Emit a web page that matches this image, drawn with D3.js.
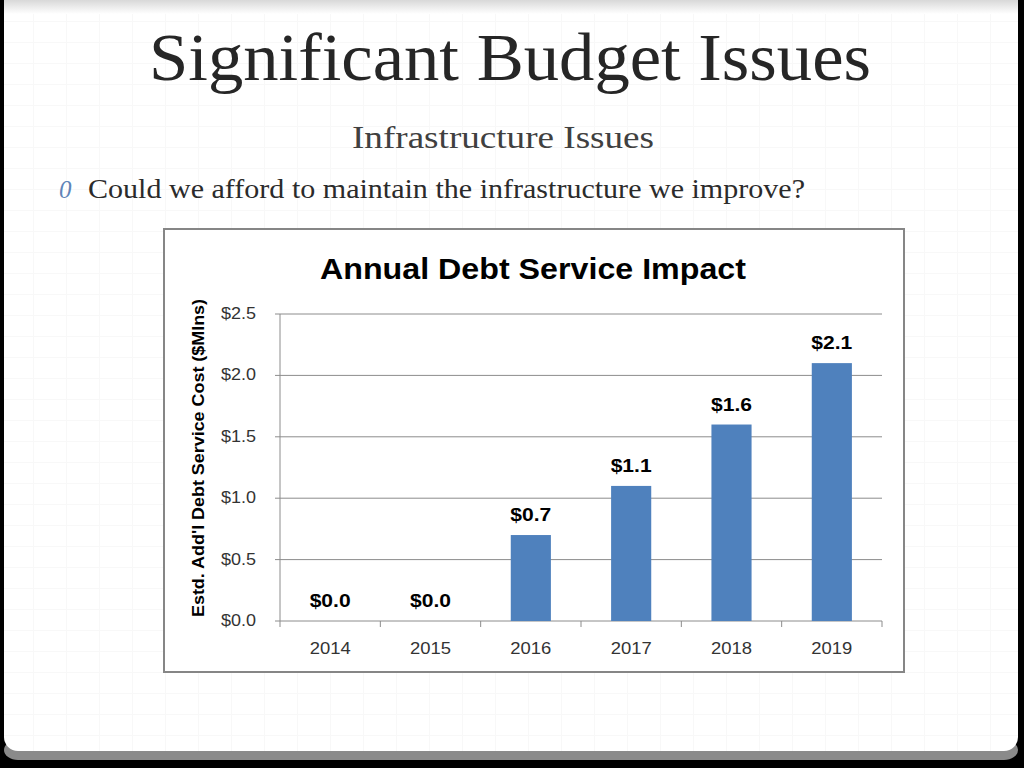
<!DOCTYPE html>
<html>
<head>
<meta charset="utf-8">
<script src="https://cdn.jsdelivr.net/npm/d3@7"></script>
<style>
  body { margin: 0; background: #000; }
  svg { display: block; }
</style>
</head>
<body>
<svg width="1024" height="768"></svg>
<script>
// data for the chart
const years = ['2014', '2015', '2016', '2017', '2018', '2019'];
const cost = [0.0, 0.0, 0.7, 1.1, 1.6, 2.1];
const yTicks = [0, 0.5, 1.0, 1.5, 2.0, 2.5];

const svg = d3.select('svg');

// slide background + shadow
const defs = svg.append('defs');
const topGrad = defs.append('linearGradient').attr('id', 'topShade').attr('x1', 0).attr('x2', 0).attr('y1', 0).attr('y2', 1);
topGrad.append('stop').attr('offset', 0).attr('stop-color', '#d8d8d8');
topGrad.append('stop').attr('offset', 1).attr('stop-color', '#ffffff');

const pat = defs.append('pattern').attr('id', 'grid')
  .attr('width', 33).attr('height', 21).attr('patternUnits', 'userSpaceOnUse');
pat.append('rect').attr('width', 33).attr('height', 21).attr('fill', '#fff');
pat.append('path').attr('d', 'M0,0.5H33M0.5,0V21').attr('stroke', '#f8f8f8').attr('stroke-width', 1);

svg.append('rect').attr('x', 4).attr('y', 740).attr('width', 1014).attr('height', 20).attr('rx', 14).attr('fill', '#8a8a8a');
svg.append('rect').attr('x', 4).attr('y', 0).attr('width', 1014).attr('height', 751).attr('rx', 14).attr('fill', 'url(#grid)');
svg.append('rect').attr('x', 4).attr('y', 0).attr('width', 1014).attr('height', 14).attr('fill', 'url(#topShade)');

// slide texts
svg.append('text').attr('x', 510).attr('y', 80).attr('text-anchor', 'middle')
  .attr('font-family', 'Liberation Serif').attr('font-size', 68).attr('fill', '#262626')
  .attr('textLength', 722).attr('lengthAdjust', 'spacingAndGlyphs')
  .text('Significant Budget Issues');

svg.append('text').attr('x', 503).attr('y', 148).attr('text-anchor', 'middle')
  .attr('font-family', 'Liberation Serif').attr('font-size', 32).attr('fill', '#404040')
  .attr('textLength', 302).attr('lengthAdjust', 'spacingAndGlyphs')
  .text('Infrastructure Issues');

svg.append('text').attr('x', 59).attr('y', 198)
  .attr('font-family', 'Liberation Serif').attr('font-style', 'italic').attr('font-size', 25).attr('fill', '#5f84b8')
  .text('0');

svg.append('text').attr('x', 88).attr('y', 198)
  .attr('font-family', 'Liberation Serif').attr('font-size', 28).attr('fill', '#2b2b2b')
  .attr('textLength', 717).attr('lengthAdjust', 'spacingAndGlyphs')
  .text('Could we afford to maintain the infrastructure we improve?');

// chart frame
svg.append('rect').attr('x', 164).attr('y', 229).attr('width', 740).attr('height', 443)
  .attr('fill', '#fff').attr('stroke', '#868686').attr('stroke-width', 2);

svg.append('text').attr('x', 533).attr('y', 279).attr('text-anchor', 'middle')
  .attr('font-family', 'Liberation Sans').attr('font-weight', 'bold').attr('font-size', 30).attr('fill', '#000')
  .attr('textLength', 426).attr('lengthAdjust', 'spacingAndGlyphs')
  .text('Annual Debt Service Impact');

const plotLeft = 280, plotRight = 882, plotTop = 314, plotBottom = 621;

const x = d3.scaleBand().domain(years).range([plotLeft, plotRight]).paddingInner(0.6).paddingOuter(0.3);
const xEdge = d3.scaleBand().domain(years).range([plotLeft, plotRight]);
const y = d3.scaleLinear().domain([0, 2.5]).range([plotBottom, plotTop]);

const g = svg.append('g');

// gridlines
g.selectAll('line.grid').data(yTicks).enter().append('line')
  .attr('x1', plotLeft - 5).attr('x2', plotRight)
  .attr('y1', d => y(d)).attr('y2', d => y(d))
  .attr('stroke', '#8c8c8c').attr('stroke-width', 1);

// y axis line
g.append('line').attr('x1', plotLeft).attr('x2', plotLeft).attr('y1', plotTop).attr('y2', plotBottom)
  .attr('stroke', '#8c8c8c');

// x ticks
const edges = years.map(d => xEdge(d)).concat([plotRight]);
g.selectAll('line.xt').data(edges).enter().append('line')
  .attr('x1', d => d).attr('x2', d => d).attr('y1', plotBottom).attr('y2', plotBottom + 6)
  .attr('stroke', '#8c8c8c');

// y tick labels
g.selectAll('text.yl').data(yTicks).enter().append('text')
  .attr('x', 256).attr('y', d => y(d) + 5).attr('text-anchor', 'end')
  .attr('font-family', 'Liberation Sans').attr('font-size', 16).attr('fill', '#333')
  .attr('textLength', 35).attr('lengthAdjust', 'spacingAndGlyphs')
  .text(d => '$' + d.toFixed(1));

// x tick labels
g.selectAll('text.xl').data(years).enter().append('text')
  .attr('x', d => xEdge(d) + xEdge.bandwidth() / 2).attr('y', 654).attr('text-anchor', 'middle')
  .attr('font-family', 'Liberation Sans').attr('font-size', 17).attr('fill', '#333')
  .attr('textLength', 41).attr('lengthAdjust', 'spacingAndGlyphs')
  .text(d => d);

// bars
g.selectAll('rect.bar').data(cost).enter().append('rect')
  .attr('x', (d, i) => x(years[i]))
  .attr('y', d => y(d))
  .attr('width', x.bandwidth())
  .attr('height', d => plotBottom - y(d))
  .attr('fill', '#4f81bd');

// value labels
g.selectAll('text.val').data(cost).enter().append('text')
  .attr('x', (d, i) => x(years[i]) + x.bandwidth() / 2)
  .attr('y', d => y(d) - 14)
  .attr('text-anchor', 'middle')
  .attr('font-family', 'Liberation Sans').attr('font-weight', 'bold').attr('font-size', 19).attr('fill', '#000')
  .attr('textLength', 41).attr('lengthAdjust', 'spacingAndGlyphs')
  .text(d => '$' + d.toFixed(1));

// y axis title
svg.append('text')
  .attr('transform', 'translate(204,458) rotate(-90)')
  .attr('text-anchor', 'middle')
  .attr('font-family', 'Liberation Sans').attr('font-weight', 'bold').attr('font-size', 16).attr('fill', '#000')
  .attr('textLength', 318).attr('lengthAdjust', 'spacingAndGlyphs')
  .text("Estd. Add'l Debt Service Cost ($Mlns)");
</script>
</body>
</html>
